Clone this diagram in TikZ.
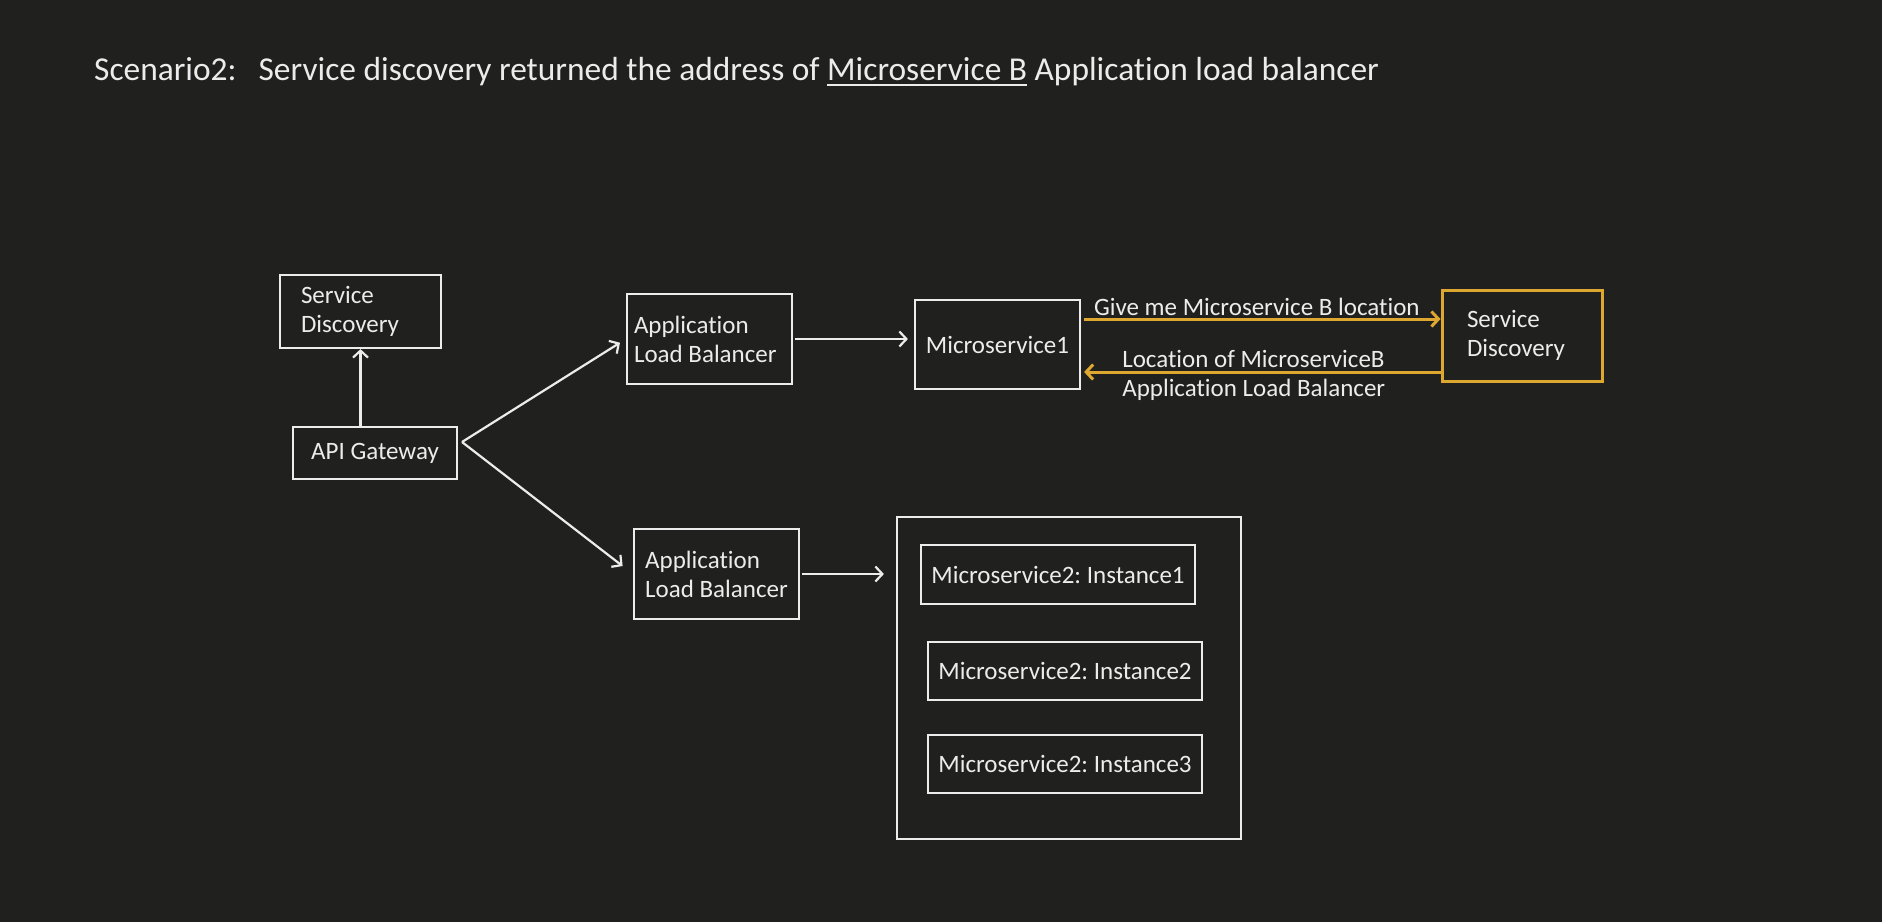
\documentclass[tikz,border=0pt]{standalone}
\usepackage{fontspec}
\setmainfont{Carlito}[Ligatures=NoCommon]
\usetikzlibrary{arrows.meta,positioning,calc}

\definecolor{bgdark}{RGB}{32,32,31}
\definecolor{fgwhite}{RGB}{236,236,236}
\definecolor{sdgold}{RGB}{222,168,48}

\newcommand{\ulmark}[1]{\setbox0\hbox{#1}\rlap{\rule[-6pt]{\wd0}{2pt}}\box0\relax}

\tikzset{
  box/.style={draw=fgwhite, line width=2.2pt, text=fgwhite, align=flush left,
    inner sep=0pt, font=\fontsize{25}{29}\selectfont},
  flow/.style={->, draw=fgwhite, line width=2.2pt},
  ask/.style={->, draw=sdgold, line width=3pt},
  lbl/.style={text=fgwhite, font=\fontsize{25}{29}\selectfont, align=left, inner sep=2pt},
}

\begin{document}
\frenchspacing
\begin{tikzpicture}[x=1pt, y=-1pt, >={Straight Barb[length=7pt,width=15pt]}]
  % background
  \fill[bgdark] (0,0) rectangle (1882,922);
  \useasboundingbox (0,0) rectangle (1882,922);

  % title
  \node[anchor=base west, text=fgwhite, font=\fontsize{33.4}{40}\selectfont, inner sep=0pt] (title) at (94,80)
    {Scenario2:\hspace{22pt}Service discovery returned the address of \ulmark{Microservice B} Application load balancer};

  % gateway side
  \node[box, text width=119pt, inner xsep=21pt, minimum height=73pt] (sdL) at (360.5,311.5) {Service\\Discovery};
  \node[box, minimum width=164pt, minimum height=52pt] (api) at (375,453) {API Gateway};
  \coordinate (fork) at (462,442);

  % load balancers
  \node[box, text width=151pt, inner xsep=7pt, minimum height=90pt] (albT) at (709.5,339) {Application\\Load Balancer};
  \node[box, minimum width=165pt, minimum height=90pt] (albB) at (716.5,574) {Application\\Load Balancer};

  % microservice 1 and its service discovery
  \node[box, minimum width=165pt, minimum height=89pt] (ms1) at (997.5,344.5) {Microservice1};
  \node[box, draw=sdgold, line width=3pt, text width=110pt, inner xsep=25pt, minimum height=91pt] (sdR) at (1522,335.5) {Service\\Discovery};

  % microservice 2 instances
  \node[box, minimum width=344pt, minimum height=322pt] (pool) at (1069,678) {};
  \node[box, minimum width=273.5pt, minimum height=59pt] (inst1) at (1058,574.5) {Microservice2: Instance1};
  \node[box, minimum width=274pt, minimum height=58pt] (inst2) at (1065,671) {Microservice2: Instance2};
  \node[box, minimum width=274pt, minimum height=58pt] (inst3) at (1065,764) {Microservice2: Instance3};

  % connectors
  \draw[flow] (api.north -| sdL.south) -- (sdL.south);
  \draw[flow, shorten >=7pt] (fork) -- (albT.west);
  \draw[flow, shorten >=13pt] (fork) -- (albB.west);
  \draw[flow, shorten <=2pt, shorten >=6pt] (albT.east) -- (albT.east -| ms1.west);
  \draw[flow, shorten <=2pt, shorten >=12pt] (albB.east) -- (albB.east -| pool.west);

  % lookup
  \draw[ask, shorten <=3pt] ([yshift=25.5pt]ms1.east) -- ([yshift=25.5pt]ms1.east -| sdR.west)
    node[lbl, midway, above, xshift=-4pt] (askq) {Give me Microservice B location};
  \draw[ask, shorten >=3pt] ([yshift=-27.5pt]ms1.east -| sdR.west) -- ([yshift=-27.5pt]ms1.east)
    node[lbl, midway, xshift=-7pt, yshift=-3pt] (reply) {Location of MicroserviceB\\Application Load Balancer};
\end{tikzpicture}
\end{document}
